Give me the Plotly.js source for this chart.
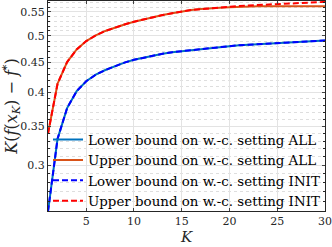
<!DOCTYPE html>
<html>
<head>
<meta charset="utf-8">
<script src="https://cdn.plot.ly/plotly-3.0.1.min.js"></script>
<style>html,body{margin:0;padding:0;background:#fff;}#chart{width:332px;height:247px;}</style>
</head>
<body>
<div id="chart"></div>
<script>
// K values
const K = [1,2,3,4,5,6,7,8,9,10,11,12,13,14,15,16,17,18,19,20,21,22,23,24,25,26,27,28,29,30];
// Lower bound on w.-c. setting ALL
const lowerAll = [0.250,0.333,0.376,0.402,0.418,0.429,0.437,0.444,0.450,0.455,0.459,0.463,0.466,0.469,0.471,0.473,0.475,0.477,0.479,0.481,0.482,0.483,0.484,0.485,0.486,0.487,0.488,0.489,0.490,0.491];
// Upper bound on w.-c. setting ALL
const upperAll = [0.340,0.414,0.451,0.474,0.490,0.501,0.510,0.517,0.523,0.529,0.534,0.539,0.543,0.547,0.551,0.554,0.556,0.558,0.559,0.560,0.561,0.562,0.562,0.562,0.562,0.562,0.562,0.562,0.562,0.562];
// Lower bound on w.-c. setting INIT
const lowerInit = [0.250,0.333,0.376,0.402,0.418,0.429,0.437,0.444,0.450,0.455,0.459,0.463,0.466,0.469,0.471,0.473,0.475,0.477,0.479,0.481,0.482,0.483,0.484,0.485,0.486,0.487,0.488,0.489,0.490,0.491];
// Upper bound on w.-c. setting INIT
const upperInit = [0.340,0.414,0.451,0.474,0.490,0.501,0.510,0.517,0.523,0.529,0.534,0.539,0.543,0.547,0.551,0.554,0.556,0.558,0.560,0.562,0.563,0.564,0.565,0.566,0.567,0.568,0.569,0.570,0.571,0.572];

const names = ["Lower bound on w.-c. setting ALL","Upper bound on w.-c. setting ALL","Lower bound on w.-c. setting INIT","Upper bound on w.-c. setting INIT"];
const xTicks = [5,10,15,20,25,30];
const yTicks = [0.3,0.35,0.4,0.45,0.5,0.55];
const yTickText = ["0.3","0.35","0.4","0.45","0.5","0.55"];
const yMinor = [0.26,0.27,0.28,0.29,0.31,0.32,0.33,0.34,0.36,0.37,0.38,0.39,0.41,0.42,0.43,0.44,0.46,0.47,0.48,0.49,0.51,0.52,0.53,0.54,0.56,0.57];

const FONT = "'DejaVu Serif', 'Liberation Serif', serif";
const series = [lowerAll, upperAll, lowerInit, upperInit];
const colors = ["#0072BD","#D95319","#0000FF","#FF0000"];
const dashes = ["solid","solid","6px,3px","6px,3px"];

const traces = series.map((s,i)=>({
  x: K, y: s, type: "scatter", mode: "lines", name: names[i],
  legendgroup: "g"+i,
  line: {color: colors[i], width: 2, dash: dashes[i]}
}));

const layout = {
  width: 332, height: 247,
  margin: {l:48, r:7, t:1, b:36},
  paper_bgcolor: "#fff", plot_bgcolor: "#fff",
  font: {family: FONT, size: 11, color: "#262626"},
  showlegend: true,
  legend: {
    x: 0.0, y: -0.025, xanchor: "left", yanchor: "bottom",
    bgcolor: "rgba(255,255,255,0)", borderwidth: 0,
    font: {family: FONT, size: 13.4, color: "#000"},
    tracegroupgap: 0, itemwidth: 30
  },
  shapes: [{type: "rect", xref: "paper", yref: "paper", x0: 0.0325, x1: 0.995, y0: 0.006, y1: 0.37,
            fillcolor: "#fff", line: {width: 0}, layer: "between"}],
  xaxis: {
    range: [1,30], tickvals: xTicks, ticks: "inside", ticklen: 3,
    showline: true, mirror: "ticks", linecolor: "#262626", linewidth: 1,
    showgrid: true, gridcolor: "#e3e3e3", zeroline: false,
    tickfont: {family: FONT, size: 11, color: "#262626"},
    title: {text: "<i>K</i>", font: {family: FONT, size: 15, color: "#262626"}, standoff: 3}
  },
  yaxis: {
    type: "log", range: [Math.log10(0.2504), Math.log10(0.574)],
    tickvals: yTicks, ticktext: yTickText, ticks: "inside", ticklen: 3,
    showline: true, mirror: "ticks", linecolor: "#262626", linewidth: 1,
    showgrid: true, gridcolor: "#e3e3e3", zeroline: false,
    tickfont: {family: FONT, size: 11, color: "#262626"},
    minor: {tickmode: "array", tickvals: yMinor, ticks: "inside", ticklen: 2, tickcolor: "#262626",
            showgrid: true, gridcolor: "#dedede", griddash: "dot", gridwidth: 1},
    title: {text: "<i>K</i>(<i>f</i>(<i>x</i><sub><i>K</i></sub>) − <i>f</i><sup>*</sup>)", font: {family: FONT, size: 16, color: "#262626"}, standoff: 2}
  }
};
Plotly.newPlot("chart", traces, layout, {staticPlot: true, displayModeBar: false});
</script>
</body>
</html>
